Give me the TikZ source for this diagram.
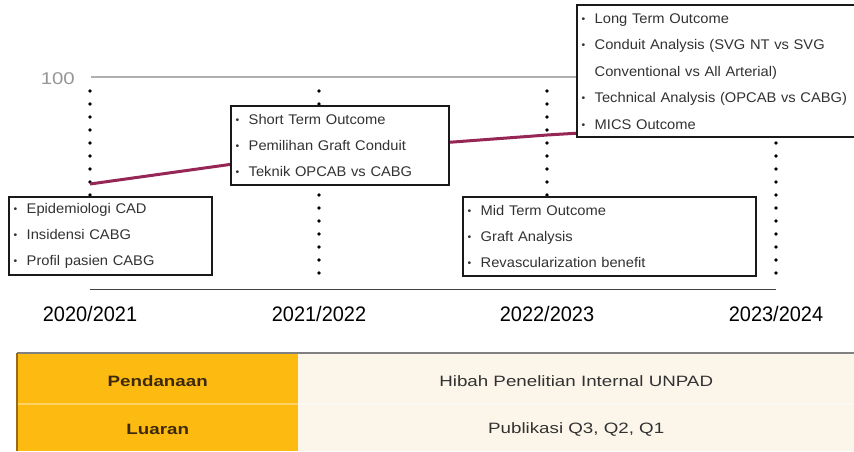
\documentclass[tikz,border=0pt]{standalone}
\usepackage{fontspec}
\setmainfont{Liberation Sans}
\newfontfamily\boxfont[FakeStretch=1.05]{Liberation Sans}
\newfontfamily\yearfont[FakeStretch=0.95]{Liberation Sans}
\newfontfamily\tablefont[FakeStretch=1.25]{Liberation Sans}
\newfontfamily\scalefont[FakeStretch=1.2]{Liberation Sans}

\definecolor{axisgray}{RGB}{175,175,175}
\definecolor{labelgray}{RGB}{150,150,150}
\definecolor{trend}{RGB}{150,38,85}
\definecolor{fundorange}{RGB}{253,187,18}
\definecolor{cellcream}{RGB}{251,246,233}
\definecolor{boxtext}{RGB}{50,50,50}
\definecolor{celltext}{RGB}{60,40,10}

% small bullet with a fixed hanging indent
\newcommand{\mbul}{\makebox[13pt][l]{\raisebox{1pt}{\fontsize{10}{10}\selectfont\textbullet}}}
\newcommand{\mind}{\hspace*{13pt}}

\begin{document}
\begin{tikzpicture}[x=1pt,y=-1pt,
  milestone/.style={draw=black!90, line width=2.4pt, fill=white, anchor=north west,
    align=left, inner xsep=4.5pt, inner ysep=0pt, text=boxtext},
  guide/.style={line width=3.8pt, line cap=round, dash pattern=on 0pt off 13pt},
  yearlabel/.style={font=\yearfont\fontsize{21}{24}\selectfont, inner sep=0pt},
  cell/.style={anchor=north west, inner sep=0pt, font=\tablefont\fontsize{15}{18}\selectfont},
]
\clip (0,0) rectangle (854,451);
\fill[white] (0,0) rectangle (854,451);

% value axis
\coordinate (axisL) at (91,77);
\coordinate (axisR) at (854,77);
\draw[axisgray, line width=1.4pt] (axisL) -- (axisR);
\node[text=labelgray, font=\scalefont\fontsize{17}{20}\selectfont, anchor=east, inner sep=0pt] (hundred) at (75,79) {100};

% year guides
\foreach \i/\x in {1/90, 2/319, 3/547, 4/776}{
  \coordinate (g\i top) at (\x,91);
  \coordinate (g\i bot) at (\x,286);
  \draw[guide] (g\i top) -- (g\i bot);
}
\draw[black!75, line width=0.9pt] (90,289) coordinate (baseL) -- (776,289) coordinate (baseR);

\node[yearlabel] (y1) at (90,314) {2020/2021};
\node[yearlabel] (y2) at (319,314) {2021/2022};
\node[yearlabel] (y3) at (547,314) {2022/2023};
\node[yearlabel] (y4) at (776,314) {2023/2024};

% progress line
\coordinate (p1) at (90,184);
\coordinate (p2) at (319,152);
\coordinate (p3) at (547,135);
\coordinate (p4) at (776,121);
\draw[trend, line width=3pt, line join=round] (p1) -- (p2) -- (p3) -- (p4);

% milestone boxes
\node[milestone, text width=194pt, minimum height=78pt, font=\boxfont\fontsize{14}{26}\selectfont] (m1) at (8,196)
  {\mbul Epidemiologi CAD\\ \mbul Insidensi CABG\\ \mbul Profil pasien CABG};
\node[milestone, text width=209pt, minimum height=79pt, font=\boxfont\fontsize{14}{26}\selectfont] (m2) at (230,105)
  {\mbul Short Term Outcome\\ \mbul Pemilihan Graft Conduit\\ \mbul Teknik OPCAB vs CABG};
\node[milestone, text width=284pt, minimum height=79pt, font=\boxfont\fontsize{14}{26}\selectfont] (m3) at (462,196)
  {\mbul Mid Term Outcome\\ \mbul Graft Analysis\\ \mbul Revascularization benefit};
\node[milestone, text width=290pt, minimum height=132pt, font=\boxfont\fontsize{14}{26.5}\selectfont] (m4) at (576,4)
  {\mbul Long Term Outcome\\ \mbul Conduit Analysis (SVG NT vs SVG\\ \mind Conventional vs All Arterial)\\
   \mbul Technical Analysis (OPCAB vs CABG)\\ \mbul MICS Outcome};

% funding / output table
\fill[fundorange] (17,353) rectangle (298,451);
\fill[cellcream] (298,353) rectangle (854,451);
\draw[white, opacity=0.35, line width=1.5pt] (17,404) -- (854,404);
\draw[black!50, line width=1.2pt] (17,353) -- (854,353);
\draw[black!45!fundorange!80!brown, line width=1.2pt] (17,353) -- (17,451);

\node[cell, minimum width=281pt, minimum height=51pt, text=celltext, font=\tablefont\bfseries\fontsize{15}{18}\selectfont] (fundkey) at (17,355) {Pendanaan};
\node[cell, minimum width=556pt, minimum height=51pt, text=boxtext] (fundval) at (298,355) {Hibah Penelitian Internal UNPAD};
\node[cell, minimum width=281pt, minimum height=51pt, text=celltext, font=\tablefont\bfseries\fontsize{15}{18}\selectfont] (outkey) at (17,404) {Luaran};
\node[cell, minimum width=556pt, minimum height=51pt, text=boxtext] (outval) at (298,404) {Publikasi Q3, Q2, Q1};
\end{tikzpicture}
\end{document}
